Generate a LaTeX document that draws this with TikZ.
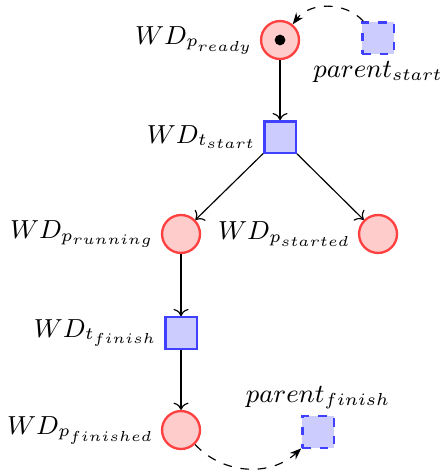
\documentclass[tikz,border=0pt]{standalone}
\usetikzlibrary{arrows.meta,positioning}
\tikzset{
  place/.style={circle,thick,draw=red!75,fill=red!20,minimum size=4.6mm,inner sep=0pt},
  transition/.style={rectangle,thick,draw=blue!75,fill=blue!20,minimum size=3.8mm,inner sep=0pt},
  extern/.style={transition,dashed},
  flow/.style={->},
  link/.style={-{Stealth[length=4pt]},dashed},
  every label/.style={inner sep=2pt}
}
\begin{document}
\begin{tikzpicture}[font=\small]
  \useasboundingbox (0,0) rectangle (5.358,-5.733);

  \node[place,label=left:$WD_{p_{ready}}$] (ready) at (3.394,-0.485) {};
  \fill (ready) circle (0.065);
  \node[extern,label=below:$parent_{start}$] (pstart) at (4.582,-0.461) {};

  \node[transition,label=left:$WD_{t_{start}}$] (tstart) at (3.394,-1.661) {};
  \node[place,label=left:$WD_{p_{running}}$] (running) at (2.194,-2.836) {};
  \node[place,label=left:$WD_{p_{started}}$] (started) at (4.582,-2.836) {};

  \node[transition,label=left:$WD_{t_{finish}}$] (tfinish) at (2.194,-4.036) {};
  \node[place,label=left:$WD_{p_{finished}}$] (finished) at (2.194,-5.212) {};
  \node[extern,label=above:$parent_{finish}$] (pfinish) at (3.855,-5.236) {};

  \draw[flow] (ready) -- (tstart);
  \draw[flow] (tstart) -- (running);
  \draw[flow] (tstart) -- (started);
  \draw[flow] (running) -- (tfinish);
  \draw[flow] (tfinish) -- (finished);

  \draw[link] (pstart) to[bend right=50] (ready);
  \draw[link] (finished) to[bend right=45] (pfinish);
\end{tikzpicture}
\end{document}
